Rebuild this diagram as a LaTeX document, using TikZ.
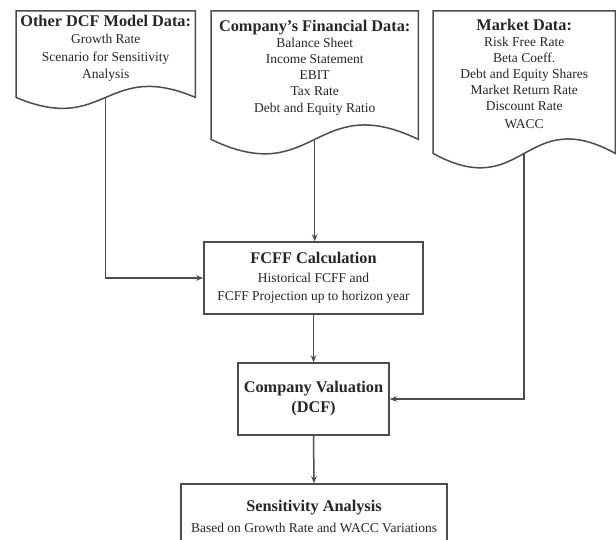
\documentclass[tikz,border=0pt]{standalone}
\usepackage{fontspec}
\setmainfont{Liberation Serif}
\usetikzlibrary{arrows.meta,
                positioning,
                calc}
\newcommand{\boxtitle}[1]{{\fontsize{16.3}{19}\selectfont\bfseries #1}}

\begin{document}
\begin{tikzpicture}[x=1pt, y=-1pt,
    every node/.style={text=black!85, font=\fontsize{13.5}{16}\selectfont},
    docshape/.style={inner sep=0pt, anchor=north west},
    docline/.style={draw=black!70, line width=1.5pt},
    doctext/.style={inner sep=0pt, align=center},
    procbox/.style={draw=black!70, line width=1.5pt, align=center, inner sep=0pt},
    flow/.style={draw=black!70, line width=1.5pt, -{Stealth[length=7pt,width=5.5pt]}}]
    \useasboundingbox (0,0) rectangle (616,540);

    \node[docshape, minimum width=179pt, minimum height=86pt]  (otherdoc)  at (16,11) {};
    \node[docshape, minimum width=207pt, minimum height=128pt] (findoc)    at (211,11) {};
    \node[docshape, minimum width=182pt, minimum height=142pt] (marketdoc) at (433,11) {};
    \foreach \d/\b in {otherdoc/38, findoc/50, marketdoc/50}
        \draw[docline] (\d.north west) -- (\d.south west)
            .. controls ($(\d.south)+(0,\b)$) and ($(\d.south)-(0,\b)$) .. (\d.south east)
            -- (\d.north east) -- cycle;

    \node[doctext, below=4pt of otherdoc.north, font=\fontsize{13.5}{17.3}\selectfont] (othertext)
        {\boxtitle{Other DCF Model Data:}\\Growth Rate\\Scenario for Sensitivity\\Analysis};
    \node[doctext, below=9pt of findoc.north] (fintext)
        {\boxtitle{Company's Financial Data:}\\Balance Sheet\\Income Statement\\EBIT\\Tax Rate\\[1pt]Debt and Equity Ratio};
    \node[doctext, below=8pt of marketdoc.north] (markettext)
        {\boxtitle{Market Data:}\\Risk Free Rate\\Beta Coeff.\\Debt and Equity Shares\\Market Return Rate\\Discount Rate\\[2pt]WACC};

    \node[procbox, minimum width=219pt, minimum height=72pt, font=\fontsize{13.5}{18.5}\selectfont] (fcff) at (313.5,278)
        {\boxtitle{FCFF Calculation}\\Historical FCFF and\\FCFF Projection up to horizon year};
    \node[procbox, minimum width=151pt, minimum height=72pt, font=\fontsize{13.5}{20}\selectfont] (valuation) at (313.5,399)
        {\boxtitle{Company Valuation}\\\boxtitle{(DCF)}};
    \node[procbox, minimum width=266pt, minimum height=64pt, font=\fontsize{13.5}{21}\selectfont] (sensitivity) at (314,516)
        {\boxtitle{Sensitivity Analysis}\\Based on Growth Rate and WACC Variations};

    \draw[flow] (otherdoc.south) |- (fcff.west);
    \draw[flow] (findoc.south) -- (findoc.south |- fcff.north);
    \draw[flow] (fcff.south) -- (valuation.north);
    \draw[flow] (marketdoc.south) |- (valuation.east);
    \draw[flow] (valuation.south) -- (sensitivity.north);
\end{tikzpicture}
\end{document}
